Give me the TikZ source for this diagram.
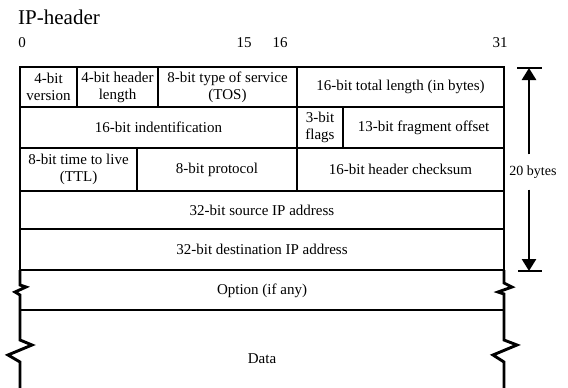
\documentclass[tikz,border=0pt]{standalone}
\usepackage{fontspec}
\setmainfont{Liberation Serif}
\usetikzlibrary{arrows.meta,positioning}
\newcommand{\fieldfont}{\fontsize{15}{17}\selectfont}
\newcommand{\headfont}{\fontsize{21}{23}\selectfont}
\tikzset{
  field/.style={draw,line width=2.9pt,inner sep=0pt,align=center,font=\fieldfont},
  fieldtext/.style={inner sep=0pt,align=center,font=\fieldfont},
  border/.style={line width=2.9pt,line join=miter},
  bitnum/.style={inner sep=0pt,font=\fieldfont},
  sizearrow/.style={-{Triangle[width=14pt,length=12pt]},line width=2.6pt},
  sizebar/.style={line width=2.6pt}
}

\begin{document}
\begin{tikzpicture}[x=1pt,y=-1pt]
  \useasboundingbox (0,0) rectangle (568,388);
  \node[anchor=west,inner sep=0pt,font=\headfont] (title) at (18,17) {IP-header};
  \node[bitnum] (bit0) at (22,43) {0};
  \node[bitnum] (bit15) at (244,43) {15};
  \node[bitnum] (bit16) at (280,43) {16};
  \node[bitnum] (bit31) at (500,43) {31};

  \node[field,minimum width=57pt,minimum height=40pt] (version) at (48.5,87) {4-bit\\version};
  \node[field,minimum width=81pt,minimum height=40pt] (hlen) at (117.5,87) {4-bit header\\length};
  \node[field,minimum width=139pt,minimum height=40pt] (tos) at (227.5,87) {8-bit type of service\\(TOS)};
  \node[field,minimum width=207pt,minimum height=40pt] (total) at (400.5,87) {16-bit total length (in bytes)};

  \node[field,minimum width=277pt,minimum height=41pt] (ident) at (158.5,127.5) {16-bit indentification};
  \node[field,minimum width=46pt,minimum height=41pt] (flags) at (320,127.5) {3-bit\\flags};
  \node[field,minimum width=161pt,minimum height=41pt] (frag) at (423.5,127.5) {13-bit fragment offset};

  \node[field,minimum width=117pt,minimum height=43pt] (ttl) at (78.5,169.5) {8-bit time to live\\(TTL)};
  \node[field,minimum width=160pt,minimum height=43pt] (proto) at (217,169.5) {8-bit protocol};
  \node[field,minimum width=207pt,minimum height=43pt] (cksum) at (400.5,169.5) {16-bit header checksum};

  \node[field,minimum width=484pt,minimum height=38pt] (src) at (262,210) {32-bit source IP address};
  \node[field,minimum width=484pt,minimum height=41pt] (dst) at (262,249.5) {32-bit destination IP address};

  \node[fieldtext] (option) at (262,291) {Option (if any)};
  \node[fieldtext] (data) at (262,359) {Data};
  \draw[border] (20,310) -- (504,310);
  \draw[border] (20,270) -- (20,285) -- (26,287) -- (15,292) -- (20,295) -- (20,340) -- (32,345) -- (8,355) -- (20,362) -- (20,388);
  \draw[border] (504,270) -- (504,283) -- (512,287) -- (498,292) -- (504,294) -- (504,340) -- (517,345) -- (493,355) -- (504,362) -- (504,388);

  \coordinate (toptick) at (529,68);
  \coordinate (bottick) at (529,271);
  \node[fieldtext,font=\fontsize{14}{16}\selectfont,inner ysep=11pt] (bytes) at (533,172) {20 bytes};
  \draw[sizearrow] (bytes.north -| toptick) -- (toptick);
  \draw[sizearrow] (bytes.south -| bottick) -- (bottick);
  \draw[sizebar] ([xshift=-12pt]toptick) -- ([xshift=13pt]toptick);
  \draw[sizebar] ([xshift=-11pt]bottick) -- ([xshift=13pt]bottick);
\end{tikzpicture}
\end{document}
